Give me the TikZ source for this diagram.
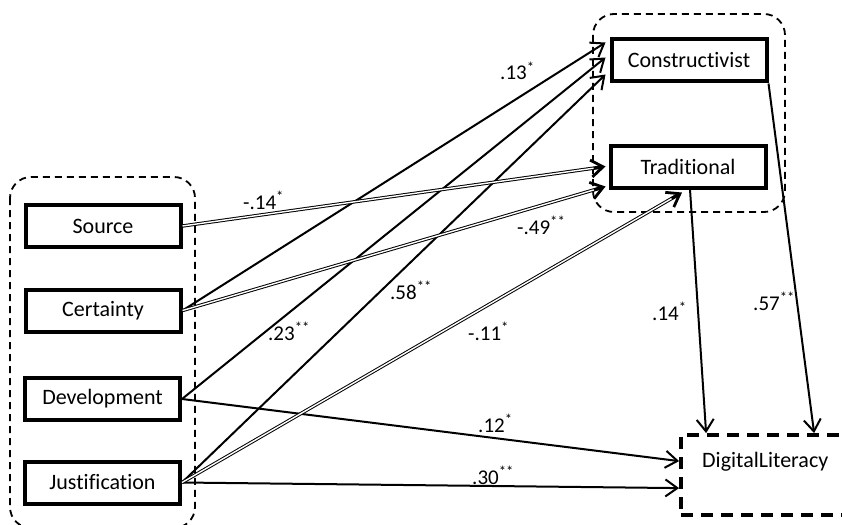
\documentclass[tikz,border=0pt]{standalone}
\usepackage{fontspec}
\setmainfont{Carlito}[Ligatures=NoCommon]
\usetikzlibrary{arrows.meta,calc}
\begin{document}
\begin{tikzpicture}[x=1pt,y=-1pt,
  box/.style={draw, line width=4pt, minimum width=155pt, minimum height=42pt, inner sep=0pt, font=\fontsize{22}{26}\selectfont},
  grp/.style={draw, dash pattern=on 7pt off 5pt, line width=1.8pt, rounded corners=21pt},
  dlbox/.style={draw, dash pattern=on 12pt off 8pt, line width=3.8pt, minimum width=199pt, minimum height=80pt, inner sep=0pt},
  arr/.style={line width=2pt, -{Straight Barb[length=12pt,width=17pt,line width=2pt]}},
  dbl/.style={double, double distance=1.4pt, line width=1pt, shorten >=6pt},
  tipseg/.style={line width=2.8pt, -{Straight Barb[length=12pt,width=17pt,line width=2.8pt]}},
  lab/.style={anchor=base west, inner sep=0pt, font=\fontsize{21}{24}\selectfont}
]
\useasboundingbox (0,0) rectangle (842,524);
\clip (0,0) rectangle (842,524);

% groups
\draw[grp] (10,177) rectangle (195,528);
\draw[grp] (593,14) rectangle (785,212);

% boxes
\node[box] (cons) at (689,60.5) {Constructivist};
\node[box] (trad) at (688,166.5) {Traditional};
\node[box] (source) at (103,226) {Source};
\node[box] (cert) at (103,310.5) {Certainty};
\node[box] (dev) at (102.5,399) {Development};
\node[box] (just) at (102.5,482.5) {Justification};
\node[dlbox] (dl) at (780.5,475) {};
\node[anchor=base west, inner sep=0pt, font=\fontsize{22}{26}\selectfont] (dltext) at (702,467) {DigitalLiteracy};

% target coordinates
\coordinate (c1) at ($(cons.west)+(-4,-18)$);
\coordinate (c2) at ($(cons.west)+(-4,-3)$);
\coordinate (c3) at ($(cons.west)+(-4,14)$);
\coordinate (t1) at ($(trad.west)+(-3,0)$);
\coordinate (t2) at ($(trad.west)+(-3,20)$);
\coordinate (t3) at ($(trad.south)+(-6,3)$);
\coordinate (d1) at ($(dl.north west)+(0,28)$);
\coordinate (d2) at ($(dl.north west)+(0,55)$);
\coordinate (d3) at ($(dl.north west)+(27,0)$);
\coordinate (d4) at ($(dl.north west)+(135,0)$);

% solid paths
\draw[arr] (cert.east) -- (c1);
\draw[arr] (dev.east) -- (c2);
\draw[arr] (just.east) -- (c3);
\draw[arr] (dev.east) -- (d1);
\draw[arr] (just.east) -- (d2);
\draw[arr] ($(trad.south)+(2,0)$) -- (d3);
\draw[arr] (cons.south east) -- (d4);

% double paths
\draw[dbl] (source.east) -- (t1);
\draw[tipseg] ($(t1)!12pt!(source.east)$) -- (t1);
\draw[dbl] (cert.east) -- (t2);
\draw[tipseg] ($(t2)!12pt!(cert.east)$) -- (t2);
\draw[dbl] (just.east) -- (t3);
\draw[tipseg] ($(t3)!12pt!(just.east)$) -- (t3);

% labels
\node[lab] (l1) at (500,80) {.13\textsuperscript{*}};
\node[lab] (l2) at (243,209) {-.14\textsuperscript{*}};
\node[lab] (l3) at (268,340) {.23\textsuperscript{**}};
\node[lab] (l4) at (390,299) {.58\textsuperscript{**}};
\node[lab] (l5) at (517,234) {-.49\textsuperscript{**}};
\node[lab] (l6) at (468,340) {-.11\textsuperscript{*}};
\node[lab] (l7) at (478,432) {.12\textsuperscript{*}};
\node[lab] (l8) at (472,484) {.30\textsuperscript{**}};
\node[lab] (l9) at (652,320) {.14\textsuperscript{*}};
\node[lab] (l10) at (753,310) {.57\textsuperscript{**}};
\end{tikzpicture}
\end{document}
